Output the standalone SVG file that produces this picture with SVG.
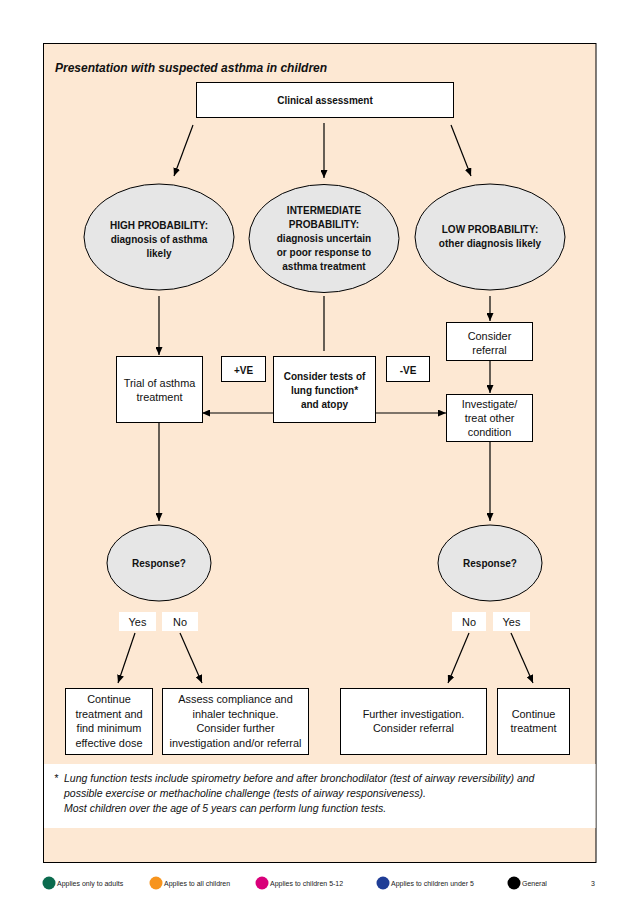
<svg xmlns="http://www.w3.org/2000/svg" width="638" height="906" viewBox="0 0 638 906">
<defs>
<marker id="ah" viewBox="0 0 8 7" refX="8" refY="3.5" markerWidth="8" markerHeight="7" markerUnits="userSpaceOnUse" orient="auto">
<path d="M0,0 L8,3.5 L0,7 z" fill="#000"/>
</marker>
<style>
.box{fill:#fff;stroke:#000;stroke-width:1}
.ell{fill:#e6e6e6;stroke:#000;stroke-width:1}
.lbl{fill:#fff;stroke:none}
.t{font-family:"Liberation Sans",Arial,sans-serif;font-size:10.9px;text-anchor:middle;fill:#111}
.b{font-family:"Liberation Sans",Arial,sans-serif;font-size:10px;font-weight:bold;text-anchor:middle;fill:#111}
.e{font-family:"Liberation Sans",Arial,sans-serif;font-size:10px;font-weight:bold;text-anchor:middle;fill:#111}
.fn{font-family:"Liberation Sans",Arial,sans-serif;font-size:10.5px;font-style:italic;fill:#111}
.lg{font-family:"Liberation Sans",Arial,sans-serif;font-size:7px;fill:#222}
.c{fill:none;stroke:#000;stroke-width:1.2}
.ca{fill:none;stroke:#000;stroke-width:1.2;marker-end:url(#ah)}
</style>
</defs>
<rect x="0" y="0" width="638" height="906" fill="#fff"/>
<rect x="43.5" y="43.5" width="552.5" height="819" fill="#fde8d3" stroke="#000" stroke-width="1"/>
<rect x="44" y="764" width="551.5" height="64" fill="#fff"/>
<text x="55" y="71.5" font-family="Liberation Sans,Arial,sans-serif" font-size="12px" font-weight="bold" font-style="italic" fill="#111">Presentation with suspected asthma in children</text>

<g id="connectors">
<line class="ca" x1="193" y1="125" x2="174" y2="176"/>
<line class="ca" x1="324" y1="123" x2="324" y2="178"/>
<line class="ca" x1="451" y1="125" x2="471" y2="176"/>
<line class="ca" x1="159" y1="296" x2="159" y2="355"/>
<line class="c" x1="324" y1="296" x2="324" y2="351"/>
<line class="ca" x1="490" y1="296" x2="490" y2="321"/>
<line class="ca" x1="490" y1="361" x2="490" y2="393"/>
<line class="ca" x1="273" y1="413" x2="202" y2="413"/>
<line class="ca" x1="376" y1="413" x2="446" y2="413"/>
<line class="ca" x1="159" y1="422" x2="159" y2="521"/>
<line class="ca" x1="490" y1="442" x2="490" y2="521"/>
<line class="ca" x1="135" y1="633" x2="118" y2="683"/>
<line class="ca" x1="180" y1="633" x2="202" y2="683"/>
<line class="ca" x1="469" y1="633" x2="448" y2="683"/>
<line class="ca" x1="511" y1="633" x2="533" y2="683"/>
</g>

<g id="clinical">
<rect class="box" x="196.5" y="82.5" width="257" height="35"/>
<text class="b" x="325" y="104">Clinical assessment</text>
</g>

<g id="high">
<ellipse class="ell" cx="159" cy="237" rx="75" ry="53"/>
<text class="e" x="159" y="228.5">HIGH PROBABILITY:</text>
<text class="e" x="159" y="242.5">diagnosis of asthma</text>
<text class="e" x="159" y="256.5">likely</text>
</g>

<g id="intermediate">
<ellipse class="ell" cx="324" cy="238.5" rx="75" ry="54"/>
<text class="e" x="324" y="213.5">INTERMEDIATE</text>
<text class="e" x="324" y="227.5">PROBABILITY:</text>
<text class="e" x="324" y="242">diagnosis uncertain</text>
<text class="e" x="324" y="256">or poor response to</text>
<text class="e" x="324" y="270">asthma treatment</text>
</g>

<g id="low">
<ellipse class="ell" cx="490" cy="237" rx="75" ry="53"/>
<text class="e" x="490" y="232.5">LOW PROBABILITY:</text>
<text class="e" x="490" y="246.5">other diagnosis likely</text>
</g>

<g id="trial">
<rect class="box" x="116.5" y="356.5" width="86" height="66"/>
<text class="t" x="159.5" y="387">Trial of asthma</text>
<text class="t" x="159.5" y="401">treatment</text>
</g>

<g id="pos">
<rect class="box" x="221.5" y="356.5" width="44" height="25"/>
<text class="b" x="243.5" y="373.5">+VE</text>
</g>

<g id="tests">
<rect class="box" x="273.5" y="356.5" width="102" height="66"/>
<text class="b" x="324.5" y="379.5">Consider tests of</text>
<text class="b" x="324.5" y="393.5">lung function*</text>
<text class="b" x="324.5" y="407.5">and atopy</text>
</g>

<g id="neg">
<rect class="box" x="386.5" y="356.5" width="43" height="25"/>
<text class="b" x="408" y="373.5">-VE</text>
</g>

<g id="referral">
<rect class="box" x="446.5" y="322.5" width="86" height="38"/>
<text class="t" x="489.5" y="339.5">Consider</text>
<text class="t" x="489.5" y="354">referral</text>
</g>

<g id="investigate">
<rect class="box" x="446.5" y="394.5" width="86" height="47"/>
<text class="t" x="489.5" y="407.5">Investigate/</text>
<text class="t" x="489.5" y="421.5">treat other</text>
<text class="t" x="489.5" y="435.5">condition</text>
</g>

<g id="response-left">
<ellipse class="ell" cx="159" cy="563" rx="52" ry="38"/>
<text class="e" x="159" y="567">Response?</text>
</g>

<g id="response-right">
<ellipse class="ell" cx="490" cy="563" rx="52" ry="38"/>
<text class="e" x="490" y="567">Response?</text>
</g>

<g id="labels">
<rect class="lbl" x="119" y="612" width="37" height="19"/>
<text class="t" x="137.5" y="625.5">Yes</text>
<rect class="lbl" x="162" y="612" width="36" height="19"/>
<text class="t" x="180" y="625.5">No</text>
<rect class="lbl" x="452" y="612" width="34" height="19"/>
<text class="t" x="469" y="625.5">No</text>
<rect class="lbl" x="493" y="612" width="37" height="19"/>
<text class="t" x="511.5" y="625.5">Yes</text>
</g>

<g id="continue-min">
<rect class="box" x="65.5" y="688.5" width="87" height="66"/>
<text class="t" x="109" y="703">Continue</text>
<text class="t" x="109" y="717.5">treatment and</text>
<text class="t" x="109" y="732">find minimum</text>
<text class="t" x="109" y="746.5">effective dose</text>
</g>

<g id="assess">
<rect class="box" x="162.5" y="688.5" width="146" height="66"/>
<text class="t" x="235.5" y="703">Assess compliance and</text>
<text class="t" x="235.5" y="717.5">inhaler technique.</text>
<text class="t" x="235.5" y="732">Consider further</text>
<text class="t" x="235.5" y="746.5">investigation and/or referral</text>
</g>

<g id="further">
<rect class="box" x="340.5" y="688.5" width="146" height="66"/>
<text class="t" x="413.5" y="717.5">Further investigation.</text>
<text class="t" x="413.5" y="732">Consider referral</text>
</g>

<g id="continue">
<rect class="box" x="497.5" y="688.5" width="72" height="66"/>
<text class="t" x="533.5" y="717.5">Continue</text>
<text class="t" x="533.5" y="732">treatment</text>
</g>

<g id="footnote">
<text class="fn" x="54" y="782">*</text>
<text class="fn" x="64" y="781.5">Lung function tests include spirometry before and after bronchodilator (test of airway reversibility) and</text>
<text class="fn" x="64" y="796.5">possible exercise or methacholine challenge (tests of airway responsiveness).</text>
<text class="fn" x="64" y="811.5">Most children over the age of 5 years can perform lung function tests.</text>
</g>

<g id="legend">
<circle cx="49" cy="883" r="6.5" fill="#0b6b4e"/>
<text class="lg" x="57" y="885.5">Applies only to adults</text>
<circle cx="156" cy="883" r="6.5" fill="#f7941d"/>
<text class="lg" x="164" y="885.5">Applies to all children</text>
<circle cx="262" cy="883" r="6.5" fill="#d9007a"/>
<text class="lg" x="270" y="885.5">Applies to children 5-12</text>
<circle cx="383" cy="883" r="6.5" fill="#1f3d96"/>
<text class="lg" x="391" y="885.5">Applies to children under 5</text>
<circle cx="514" cy="883" r="6.5" fill="#000"/>
<text class="lg" x="522" y="885.5">General</text>
<text class="lg" x="591" y="885.5" font-size="8px">3</text>
</g>
</svg>
